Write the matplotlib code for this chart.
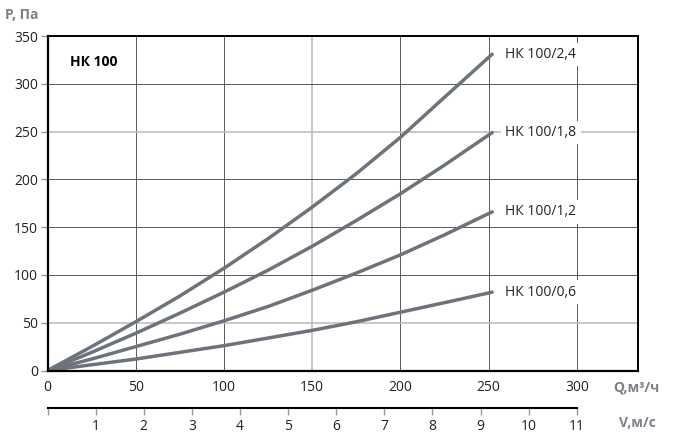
import numpy as np
import matplotlib
matplotlib.use("Agg")
import matplotlib.pyplot as plt

plt.rcParams['font.family'] = ['Open Sans', 'DejaVu Sans']

# flow rate, m3/h
q = [0, 25, 50, 75, 100, 125, 150, 175, 200, 225, 252]
# pressure drop, Pa, per heater model
p_24 = [0, 25, 51, 78, 107, 138, 171, 206, 244, 286, 331]
p_18 = [0, 19, 39, 60, 82, 105, 130, 157, 185, 215, 249]
p_12 = [0, 12, 25, 38, 52, 67, 84, 102, 121, 142, 166]
p_06 = [0, 6, 12, 19, 26, 34, 42, 51, 61, 71, 82]
series = [("НК 100/2,4", p_24), ("НК 100/1,8", p_18),
          ("НК 100/1,2", p_12), ("НК 100/0,6", p_06)]

q_ticks = [0, 50, 100, 150, 200, 250, 300]
p_ticks = [0, 50, 100, 150, 200, 250, 300, 350]
v_ticks = list(range(0, 12))   # air speed, m/s; 11 m/s <-> 300 m3/h
q_per_v = 300 / 11

line_col = '#6c737a'
label_gray = '#7b8189'

fig = plt.figure(figsize=(6.77, 4.36), dpi=100)
ax = fig.add_axes([0.0702, 0.1502, 0.8715, 0.767])

for name, p in series:
    ax.plot(q, p, color=line_col, lw=2.5, solid_capstyle='round',
            solid_joinstyle='round', zorder=3)
    ax.annotate(name, xy=(q[-1], p[-1]), xytext=(9.5, 0), textcoords='offset points',
                va='center', ha='left', fontsize=10, color='#222222', zorder=4,
                bbox=dict(boxstyle='square,pad=0.3', fc='white', ec='none'))

ax.set_xlim(0, 334.4)
ax.set_ylim(0, 350)
ax.set_xticks(q_ticks)
ax.set_yticks(p_ticks)
ax.tick_params(axis='x', length=0, pad=7, labelsize=10, colors='#222222')
ax.tick_params(axis='y', length=5, width=1, color='#999999', pad=2,
               labelsize=10, labelcolor='#222222')
ax.grid(True, color='#5a5a5a', lw=0.7, zorder=1)
for g, v in zip(ax.get_xgridlines(), q_ticks):
    if v == 150:
        g.set_color('#b8b8b8'); g.set_linewidth(1.1)
for g, v in zip(ax.get_ygridlines(), p_ticks):
    if v in (50, 250):
        g.set_color('#b8b8b8'); g.set_linewidth(1.1)
for s in ax.spines.values():
    s.set_linewidth(1.4)
    s.set_color('black')
    s.set_zorder(5)
ax.spines['left'].set_linewidth(1.6)
ax.spines['bottom'].set_linewidth(1.6)

ax.text(0.038, 0.922, "НК 100", transform=ax.transAxes, fontsize=10,
        fontweight='bold', va='center', ha='left', color='black')

fig.text(5 / 677, 1 - 15 / 436, "P, Па", fontsize=10, fontweight='bold',
         color=label_gray, va='center', ha='left')
fig.text(636 / 677, 1 - 387 / 436, "Q,м³/ч", fontsize=10, fontweight='bold',
         color=label_gray, va='center', ha='center')
fig.text(637 / 677, 1 - 423 / 436, "V,м/с", fontsize=10, fontweight='bold',
         color=label_gray, va='center', ha='center')

# secondary speed scale
ax2 = fig.add_axes([0.0702, 1 - 407.7 / 436, 0.8715, 0.0001])
ax2.set_xlim(ax.get_xlim())
ax2.set_yticks([])
for side in ('top', 'left', 'right'):
    ax2.spines[side].set_visible(False)
ax2.spines['bottom'].set_bounds(0, 300)
ax2.spines['bottom'].set_linewidth(1.5)
ax2.set_xticks([v * q_per_v for v in v_ticks])
ax2.set_xticklabels(['' if v == 0 else str(v) for v in v_ticks])
ax2.tick_params(axis='x', length=5, width=1, color='#999999', pad=3,
                labelsize=10, labelcolor='#222222')
ax2.patch.set_visible(False)

fig.savefig('out.png', dpi=100)
